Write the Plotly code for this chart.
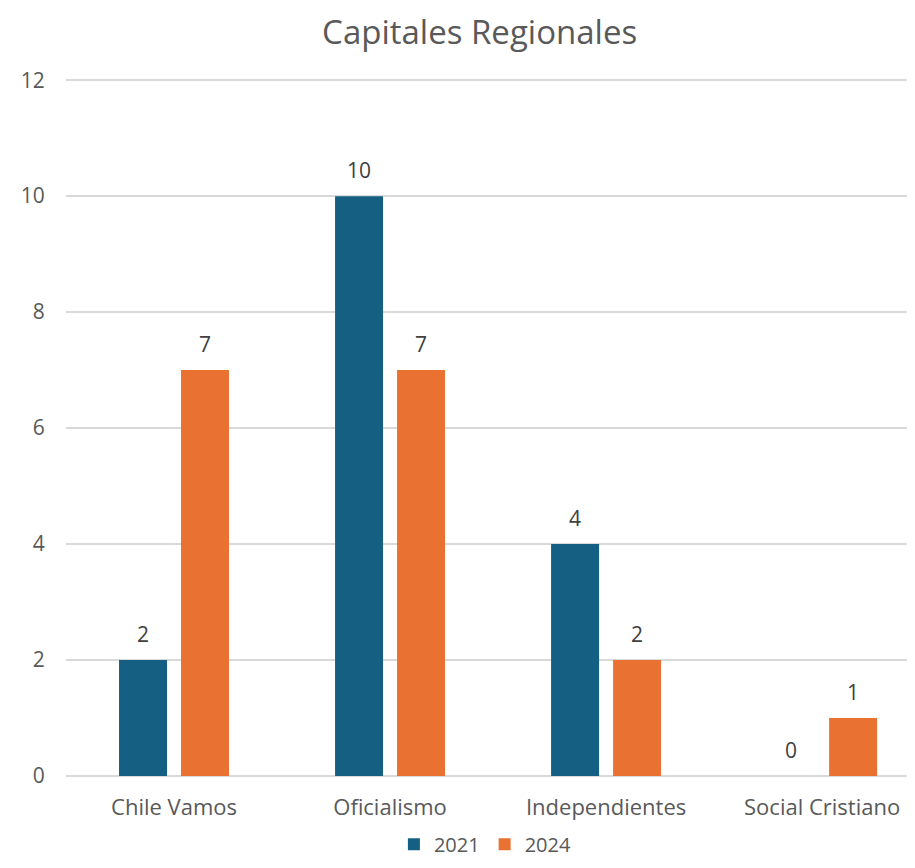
import plotly.graph_objects as go

categories = ["Chile Vamos", "Oficialismo", "Independientes", "Social Cristiano"]
values_2021 = [2, 10, 4, 0]
values_2024 = [7, 7, 2, 1]
series_names = ["2021", "2024"]
colors = ["#156082", "#E97132"]
y_ticks = [0, 2, 4, 6, 8, 10, 12]

font_family = "Open Sans, Liberation Sans, Arial, sans-serif"

fig = go.Figure()
for name, vals, col in zip(series_names, [values_2021, values_2024], colors):
    fig.add_trace(go.Bar(
        x=categories, y=vals, name=name,
        marker=dict(color=col, line=dict(width=0)),
    ))

annotations = []
for shift, vals in zip([-31, 31], [values_2021, values_2024]):
    for c, v in zip(categories, vals):
        annotations.append(dict(
            x=c, y=v, xref="x", yref="y", text=str(v), showarrow=False,
            xshift=shift, yshift=26, yanchor="middle",
            font=dict(size=21, color="#404040", family=font_family),
        ))

fig.update_layout(
    width=907, height=852,
    margin=dict(l=58, r=0, t=71, b=84, autoexpand=False),
    paper_bgcolor="white", plot_bgcolor="white",
    barmode="group", bargap=0.426, bargroupgap=0.226,
    title=dict(text="Capitales Regionales", x=0.520, xanchor="center",
               y=0.971, yanchor="middle",
               font=dict(size=33, color="#595959", family=font_family)),
    font=dict(family=font_family, color="#595959"),
    xaxis=dict(range=[-0.5, 3.43], showgrid=False, showline=False,
               ticks="outside", ticklen=12, tickcolor="white", automargin=False,
               tickfont=dict(size=22, color="#595959")),
    yaxis=dict(range=[0, 12.02], tickvals=y_ticks, showgrid=True,
               gridcolor="#D9D9D9", gridwidth=1.5, zeroline=True,
               zerolinecolor="#D9D9D9", zerolinewidth=1.5,
               showline=False, ticks="outside", ticklen=16, tickcolor="white",
               automargin=False,
               tickfont=dict(size=21, color="#595959")),
    legend=dict(orientation="h", x=0.494, xanchor="center", y=-0.098, yanchor="middle",
                font=dict(size=20, color="#595959"), itemwidth=30,
                traceorder="normal"),
    annotations=annotations,
    showlegend=True,
)
fig.write_html("out.html")
